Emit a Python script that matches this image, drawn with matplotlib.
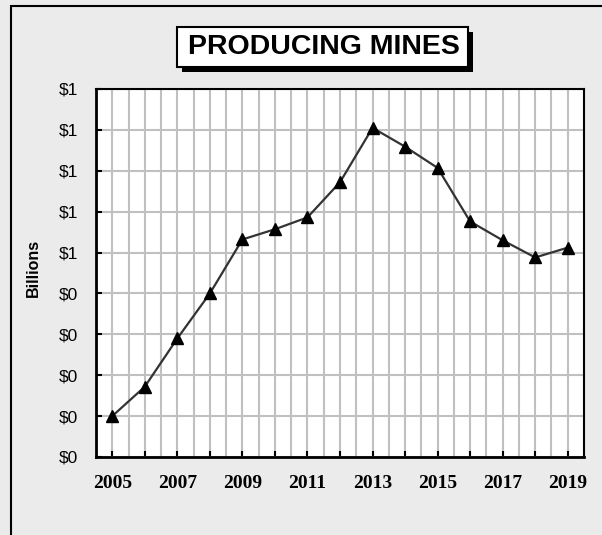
import math

import matplotlib
matplotlib.use('Agg')
import matplotlib.pyplot as plt
from matplotlib.patches import Rectangle
from matplotlib.ticker import FuncFormatter, MultipleLocator

years = [2005, 2006, 2007, 2008, 2009, 2010, 2011, 2012, 2013, 2014, 2015, 2016, 2017, 2018, 2019]
values = [0.10, 0.172, 0.29, 0.40, 0.532, 0.557, 0.586, 0.672, 0.805, 0.759, 0.707, 0.576, 0.530, 0.488, 0.512]
year_labels = [2005, 2007, 2009, 2011, 2013, 2015, 2017, 2019]
title = 'PRODUCING MINES'
ylabel = 'Billions'

W, H = 602, 535


def dollars(v, pos):
    # round half up, like the spreadsheet does
    return f'${int(math.floor(v + 0.5 + 1e-9))}'


def box(x0, y0, x1, y1, **kw):
    # pixel box (top-left origin) -> figure rectangle
    return Rectangle((x0 / W, 1 - y1 / H), (x1 - x0) / W, (y1 - y0) / H,
                     transform=fig.transFigure, **kw)


fig = plt.figure(figsize=(6.02, 5.35), dpi=100, facecolor='#ebebeb')

# outer frame of the chart area
fig.add_artist(box(11, 6, 700, 700, facecolor='none', edgecolor='black', linewidth=1.5))

ax = fig.add_axes([96 / W, 1 - 457 / H, (584 - 96) / W, (457 - 89) / H])
ax.set_facecolor('white')

ax.plot(years, values, color='#333333', linewidth=1.6, marker='^', markersize=9,
        markerfacecolor='black', markeredgecolor='black', zorder=3)

ax.set_xlim(2004.5, 2019.5)
ax.set_ylim(0, 0.9)
ax.yaxis.set_major_locator(MultipleLocator(0.1))
ax.yaxis.set_major_formatter(FuncFormatter(dollars))
ax.set_xticks(years)
ax.set_xticks([y + 0.5 for y in years[:-1]], minor=True)
ax.set_xticklabels([str(y) if y in year_labels else '' for y in years],
                   fontfamily='Liberation Serif', fontweight='bold', fontsize=14)
ax.tick_params(axis='x', which='major', direction='in', length=4, width=1.5, pad=13)
ax.tick_params(axis='x', which='minor', length=0)
ax.tick_params(axis='y', direction='in', length=4, width=1.5, pad=13)
for lbl in ax.get_yticklabels():
    lbl.set_fontfamily('Liberation Sans')
    lbl.set_fontsize(12.5)

ax.grid(True, which='both', axis='x', color='#c0c0c0', linewidth=1.5, zorder=0)
ax.grid(True, which='major', axis='y', color='#c0c0c0', linewidth=1.5, zorder=0)
ax.set_axisbelow(True)

for side in ['left', 'bottom']:
    ax.spines[side].set_linewidth(2)
for side in ['top', 'right']:
    ax.spines[side].set_linewidth(1.5)

fig.text(33 / W, 1 - 268 / H, ylabel, rotation=90, ha='center', va='center',
         fontfamily='Liberation Sans', fontweight='bold', fontsize=11.5)

# title box with drop shadow
fig.add_artist(box(182, 32, 473, 72, facecolor='black', edgecolor='none'))
fig.add_artist(box(177, 27, 468, 67, facecolor='white', edgecolor='black', linewidth=1.5))
fig.text(324 / W, 1 - 47 / H, title, ha='center', va='center',
         fontfamily='Liberation Sans', fontweight='bold', fontsize=20.5)

fig.savefig('out.png', dpi=100, facecolor=fig.get_facecolor())
